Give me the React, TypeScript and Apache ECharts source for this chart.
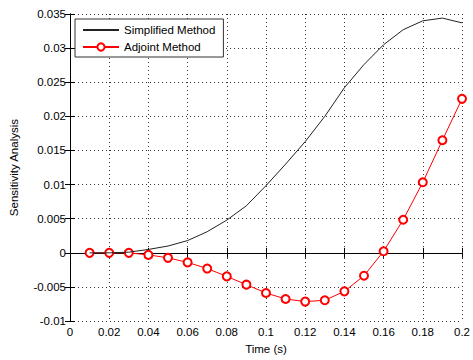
import React, { useEffect, useRef } from "react";
import * as echarts from "echarts";

const timeValues = [0.01, 0.02, 0.03, 0.04, 0.05, 0.06, 0.07, 0.08, 0.09, 0.1, 0.11, 0.12, 0.13, 0.14, 0.15, 0.16, 0.17, 0.18, 0.19, 0.2];
const simplifiedValues = [0, 0, 0.0001, 0.0005, 0.001, 0.0018, 0.0031, 0.0048, 0.0069, 0.00985, 0.013, 0.0163, 0.02, 0.0242, 0.0276, 0.0305, 0.0327, 0.034, 0.0344, 0.0337];
const adjointValues = [0, 0, 0, -0.0003, -0.00073, -0.0014, -0.0023, -0.00345, -0.00466, -0.00588, -0.00676, -0.00714, -0.00695, -0.00564, -0.00335, 0.00023, 0.00485, 0.01034, 0.0165, 0.02257];
const seriesNames = ["Simplified Method", "Adjoint Method"];

const FONT = "'Liberation Sans', Arial, Helvetica, sans-serif";

export default function App() {
  const ref = useRef<HTMLDivElement>(null);
  useEffect(() => {
    document.body.style.margin = "0";
    const chart = echarts.init(ref.current!, null, { renderer: "svg" });
    const grid = { left: 68, right: 11, top: 14, bottom: 37 };
    const axisLine = { show: true, lineStyle: { color: "#000", width: 1 } };
    const tick = { show: true, inside: true, length: 5, lineStyle: { color: "#000" } };
    const split = { show: true, lineStyle: { color: "#333", width: 1, type: [1, 3] as any } };
    chart.setOption({
      animation: false,
      backgroundColor: "#fff",
      textStyle: { fontFamily: FONT },
      grid,
      legend: {
        orient: "vertical",
        left: 75,
        top: 19,
        data: [
          {
            name: seriesNames[0],
            itemStyle: { color: "transparent", borderColor: "transparent", borderWidth: 0, opacity: 0 },
          },
          { name: seriesNames[1] },
        ],
        backgroundColor: "#fff",
        borderColor: "#333",
        borderWidth: 1,
        borderRadius: 0,
        padding: [5, 8, 4, 7],
        itemWidth: 36,
        itemHeight: 9,
        itemGap: 5,
        textStyle: { fontFamily: FONT, fontSize: 11.5, color: "#000" },
      },
      xAxis: [
        {
          type: "value",
          min: 0,
          max: 0.2,
          interval: 0.02,
          position: "bottom",
          name: "Time (s)",
          nameLocation: "middle",
          nameGap: 20,
          nameTextStyle: { fontFamily: FONT, fontSize: 11.5, color: "#000" },
          axisLine,
          axisTick: tick,
          axisLabel: { fontFamily: FONT, fontSize: 11.5, color: "#000", margin: 5 },
          splitLine: split,
        },
        {
          type: "value",
          min: 0,
          max: 0.2,
          interval: 0.02,
          position: "top",
          axisLine,
          axisTick: tick,
          axisLabel: { show: false },
          splitLine: { show: false },
        },
      ],
      yAxis: [
        {
          type: "value",
          min: -0.01,
          max: 0.035,
          interval: 0.005,
          position: "left",
          name: "Sensitivity Analysis",
          nameLocation: "middle",
          nameGap: 50,
          nameTextStyle: { fontFamily: FONT, fontSize: 11.5, color: "#000" },
          axisLine,
          axisTick: tick,
          axisLabel: { fontFamily: FONT, fontSize: 11.5, color: "#000", margin: 4 },
          splitLine: split,
        },
        {
          type: "value",
          min: -0.01,
          max: 0.035,
          interval: 0.005,
          position: "right",
          axisLine,
          axisTick: tick,
          axisLabel: { show: false },
          splitLine: { show: false },
        },
      ],
      series: [
        {
          name: seriesNames[1],
          type: "line",
          data: timeValues.map((t, i) => [t, adjointValues[i]]),
          symbol: "emptyCircle",
          symbolSize: 8,
          showAllSymbol: true,
          lineStyle: { color: "#ff0000", width: 1 },
          itemStyle: { color: "#ff0000", borderColor: "#ff0000", borderWidth: 1 },
          z: 2,
        },
        {
          name: seriesNames[0],
          type: "line",
          data: timeValues.map((t, i) => [t, simplifiedValues[i]]),
          symbol: "none",
          lineStyle: { color: "#222", width: 1 },
          itemStyle: { color: "#222" },
          z: 3,
        },
      ],
    });
    return () => chart.dispose();
  }, []);
  return <div ref={ref} style={{ position: "absolute", left: 0, top: 0, width: 473, height: 360 }} />;
}
